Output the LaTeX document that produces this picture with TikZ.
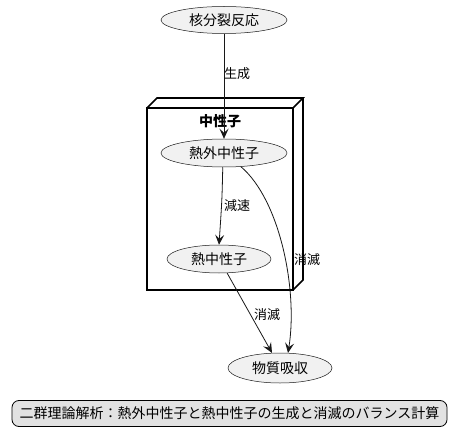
\documentclass[tikz,border=0pt]{standalone}
\usepackage{fontspec}
\setmainfont{Noto Sans CJK JP}
\usetikzlibrary{shapes.geometric,arrows.meta}
\definecolor{nodefill}{HTML}{F1F1F1}
\definecolor{linec}{HTML}{181818}
\definecolor{legfill}{HTML}{E2E2E2}
\tikzset{
  usecase/.style={ellipse,draw=linec,line width=0.5bp,fill=nodefill,inner sep=0pt,font=\fontsize{14bp}{16bp}\selectfont},
  conn/.style={draw=linec,line width=0.8bp,-{Stealth[length=10bp,width=9bp,inset=4bp]}},
  lbl/.style={font=\fontsize{13bp}{15bp}\selectfont,inner sep=0pt},
  pkg/.style={draw=black,line width=1.6bp,line join=miter},
}
\begin{document}
\begin{tikzpicture}[x=1bp,y=-1bp]
\useasboundingbox (0,0) rectangle (460,445);
% package 3D box
\draw[pkg] (147,108) rectangle (293,290);
\draw[pkg] (147,108) -- (157,98) -- (303,98) -- (293,108);
\draw[pkg] (303,98) -- (303,280) -- (293,290);
\node[font=\bfseries\fontsize{14bp}{16bp}\selectfont,inner sep=0pt] (pkgtitle) at (220,121) {中性子};
% nodes
\node[usecase,minimum width=126bp,minimum height=27bp] (fis) at (224,20) {核分裂反応};
\node[usecase,minimum width=126bp,minimum height=28bp] (epi) at (224,153) {熱外中性子};
\node[usecase,minimum width=104bp,minimum height=28bp] (th) at (219,259) {熱中性子};
\node[usecase,minimum width=104bp,minimum height=30bp] (abs) at (280,368) {物質吸収};
% connectors
\draw[conn] (fis.south) -- (epi.north);
\node[lbl] (l1) at (237,74) {生成};
\draw[conn] (epi.-95) .. controls (222,200) .. (th.north);
\node[lbl] (l2) at (237,206) {減速};
\draw[conn] (epi.-39) .. controls (280,200) and (298,290) .. (abs.62);
\node[lbl] (l3) at (307,260) {消滅};
\draw[conn] (th.-60) -- (abs.118);
\node[lbl] (l4) at (267,315) {消滅};
% legend
\node[draw=black,line width=0.8bp,fill=legfill,rounded corners=7bp,minimum width=435bp,minimum height=26bp,inner sep=0pt,font=\fontsize{14bp}{16bp}\selectfont] (leg) at (229.5,413.5) {二群理論解析：熱外中性子と熱中性子の生成と消滅のバランス計算};
\end{tikzpicture}
\end{document}
